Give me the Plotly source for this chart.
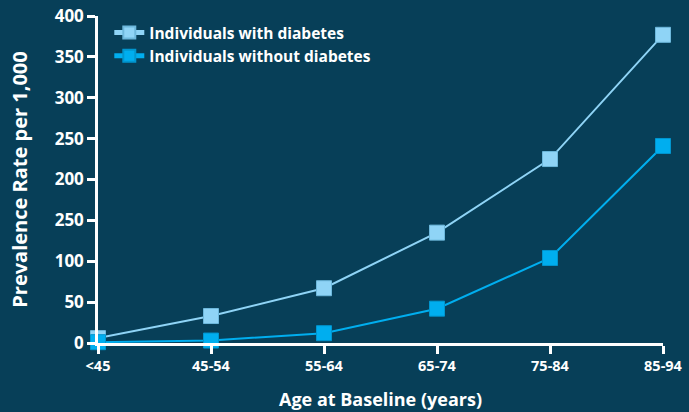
import plotly.graph_objects as go

age_groups = ["<45", "45-54", "55-64", "65-74", "75-84", "85-94"]
with_diabetes = [6, 33, 67, 135, 225, 377]
without_diabetes = [1, 3, 12, 42, 104, 241]

tick_values = [0, 50, 100, 150, 200, 250, 300, 350, 400]
tick_labels = ["0", "50", "100", "250", "200", "250", "300", "350", "400"]

FONT = "Open Sans, Lato, sans-serif"
BG = "#073f58"

fig = go.Figure()
fig.add_trace(go.Scatter(
    x=list(range(len(age_groups))), y=with_diabetes,
    name="Individuals with diabetes",
    mode="lines+markers",
    line=dict(color="#8fd4f6", width=2),
    marker=dict(symbol="square", size=15, color="#8fd4f6",
                line=dict(color="#6db8dc", width=1)),
    cliponaxis=False,
))
fig.add_trace(go.Scatter(
    x=list(range(len(age_groups))), y=without_diabetes,
    name="Individuals without diabetes",
    mode="lines+markers",
    line=dict(color="#00aeef", width=2),
    marker=dict(symbol="square", size=15, color="#00aeef",
                line=dict(color="#0096cf", width=1)),
    cliponaxis=False,
))

fig.update_layout(
    width=689, height=412,
    margin=dict(l=98, r=26, t=16, b=69, autoexpand=False),
    paper_bgcolor=BG, plot_bgcolor=BG,
    font=dict(family=FONT, color="white", size=15),
    showlegend=True,
    legend=dict(
        x=0.02, y=1.0, xanchor="left", yanchor="top",
        bgcolor="rgba(0,0,0,0)",
        font=dict(family=FONT, size=15.5, color="white", weight="bold"),
        itemsizing="constant", tracegroupgap=0,
    ),
    xaxis=dict(
        range=[0, 5],
        tickmode="array",
        tickvals=list(range(len(age_groups))),
        ticktext=age_groups,
        showgrid=False, zeroline=False,
        showline=True, linecolor="white", linewidth=2.5,
        ticks="outside", ticklen=8, tickwidth=2.5, tickcolor="white",
        tickfont=dict(family=FONT, size=14.5, color="white", weight="bold"),
        title=dict(text="Age at Baseline (years)",
                   font=dict(family=FONT, size=18, color="white", weight="bold"),
                   standoff=20),
    ),
    yaxis=dict(
        range=[0, 400],
        tickmode="array",
        tickvals=tick_values,
        ticktext=tick_labels,
        showgrid=False, zeroline=False,
        showline=True, linecolor="white", linewidth=2.5,
        ticks="outside", ticklen=8, tickwidth=2.5, tickcolor="white",
        tickfont=dict(family=FONT, size=17, color="white", weight="bold"),
        title=dict(text="Prevalence Rate per 1,000",
                   font=dict(family=FONT, size=20, color="white", weight="bold"),
                   standoff=22),
    ),
)

fig.write_html("out.html")
